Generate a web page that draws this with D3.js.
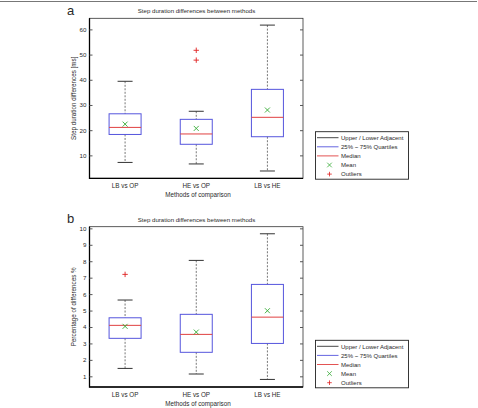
<!DOCTYPE html>
<html>
<head>
<meta charset="utf-8">
<script src="https://cdnjs.cloudflare.com/ajax/libs/d3/7.8.5/d3.min.js"></script>
<style>
  body { margin: 0; background: #fff; }
  svg text { font-family: "Liberation Sans", Arial, sans-serif; fill: #2a2a2a; }
</style>
</head>
<body>
<div id="chart"></div>
<script>
var categories = ["LB vs OP", "HE vs OP", "LB vs HE"];

// panel a: step duration differences [ms]
var upperA = [39.4, 27.5, 61.7];
var q3A = [26.5, 24.3, 36.2];
var medianA = [21.1, 18.5, 25.1];
var q1A = [18.3, 14.4, 17.4];
var lowerA = [7.2, 6.6, 3.8];
var meanA = [22.4, 20.7, 28.0];
var outliersA = [[], [51.7, 47.8], []];
var ticksA = [10, 20, 30, 40, 50, 60];

// panel b: percentage of differences
var upperB = [5.64, 8.05, 9.67];
var q3B = [4.56, 4.77, 6.59];
var medianB = [4.1, 3.55, 4.6];
var q1B = [3.31, 2.46, 3.0];
var lowerB = [1.48, 1.14, 0.81];
var meanB = [4.04, 3.69, 4.99];
var outliersB = [[7.2], [], []];
var ticksB = [1, 2, 3, 4, 5, 6, 7, 8, 9, 10];

var legendLabels = ["Upper / Lower Adjacent", "25% ~ 75% Quartiles", "Median", "Mean", "Outliers"];

var svgWidth = 478;
var svgHeight = 408;

var svg = d3.select("#chart")
  .append("svg")
  .attr("width", svgWidth)
  .attr("height", svgHeight);

// thin grey rule across the top of the figure
svg.append("line")
  .attr("x1", 0).attr("x2", 477)
  .attr("y1", 1.5).attr("y2", 1.5)
  .attr("stroke", "#777")
  .attr("stroke-width", 1.2);

function drawPanel(opts) {
  var left = 89.5, right = 303;
  var top = opts.top, bottom = opts.bottom;

  var x = d3.scaleBand()
    .domain(categories)
    .range([left, right]);

  var y = d3.scaleLinear()
    .domain(opts.domain)
    .range([bottom, top]);

  var g = svg.append("g");
  var boxW = 32, capW = 15;

  // axes box
  g.append("rect")
    .attr("x", left).attr("y", top)
    .attr("width", right - left).attr("height", bottom - top)
    .attr("fill", "none")
    .attr("stroke", "#333")
    .attr("stroke-width", 0.8);
  g.append("path")
    .attr("d", `M${left},${top}V${bottom}H${right}`)
    .attr("fill", "none")
    .attr("stroke", "#000")
    .attr("stroke-width", 1.3);

  // y axis on the left with inner ticks, and matching ticks on the right
  var leftAxis = d3.axisLeft(y).tickValues(opts.ticks).tickSize(-3).tickPadding(3);
  var yAxisG = g.append("g")
    .attr("transform", `translate(${left},0)`)
    .call(leftAxis);
  yAxisG.select(".domain").remove();
  yAxisG.selectAll("line").attr("stroke", "#555");
  yAxisG.selectAll("text")
    .attr("font-size", "6.2px")
    .style("font-family", "Liberation Sans, Arial, sans-serif")
    .style("fill", "#2a2a2a");

  var rightAxis = d3.axisRight(y).tickValues(opts.ticks).tickSize(-3).tickFormat("");
  var yAxisR = g.append("g")
    .attr("transform", `translate(${right},0)`)
    .call(rightAxis);
  yAxisR.select(".domain").remove();
  yAxisR.selectAll("line").attr("stroke", "#555");

  // x tick labels
  var bottomAxis = d3.axisBottom(x).tickSize(0).tickPadding(5.5);
  var xAxisG = g.append("g")
    .attr("transform", `translate(0,${bottom})`)
    .call(bottomAxis);
  xAxisG.select(".domain").remove();
  xAxisG.selectAll("text")
    .attr("font-size", "6.3px")
    .style("font-family", "Liberation Sans, Arial, sans-serif")
    .style("fill", "#2a2a2a");

  var rows = categories.map(function(c, i) {
    return {
      cat: c,
      upper: opts.upper[i], q3: opts.q3[i], median: opts.median[i],
      q1: opts.q1[i], lower: opts.lower[i], mean: opts.mean[i],
      outliers: opts.outliers[i]
    };
  });

  var cx = function(d) { return x(d.cat) + x.bandwidth() / 2; };

  var box = g.selectAll(".bx")
    .data(rows)
    .enter()
    .append("g")
    .attr("class", "bx");

  // dashed whiskers
  box.append("line")
    .attr("x1", cx).attr("x2", cx)
    .attr("y1", d => y(d.upper)).attr("y2", d => y(d.q3))
    .attr("stroke", "#555").attr("stroke-width", 0.8)
    .attr("stroke-dasharray", "2,1.5");
  box.append("line")
    .attr("x1", cx).attr("x2", cx)
    .attr("y1", d => y(d.q1)).attr("y2", d => y(d.lower))
    .attr("stroke", "#555").attr("stroke-width", 0.8)
    .attr("stroke-dasharray", "2,1.5");

  // adjacent caps
  box.append("line")
    .attr("x1", d => cx(d) - capW / 2).attr("x2", d => cx(d) + capW / 2)
    .attr("y1", d => y(d.upper)).attr("y2", d => y(d.upper))
    .attr("stroke", "#333").attr("stroke-width", 1);
  box.append("line")
    .attr("x1", d => cx(d) - capW / 2).attr("x2", d => cx(d) + capW / 2)
    .attr("y1", d => y(d.lower)).attr("y2", d => y(d.lower))
    .attr("stroke", "#333").attr("stroke-width", 1);

  // quartile box
  box.append("rect")
    .attr("x", d => cx(d) - boxW / 2)
    .attr("y", d => y(d.q3))
    .attr("width", boxW)
    .attr("height", d => y(d.q1) - y(d.q3))
    .attr("fill", "none")
    .attr("stroke", "#5555dd")
    .attr("stroke-width", 1);

  // median
  box.append("line")
    .attr("x1", d => cx(d) - boxW / 2).attr("x2", d => cx(d) + boxW / 2)
    .attr("y1", d => y(d.median)).attr("y2", d => y(d.median))
    .attr("stroke", "#e04040").attr("stroke-width", 1);

  // mean marker (x)
  box.append("path")
    .attr("transform", d => `translate(${cx(d)},${y(d.mean)})`)
    .attr("d", "M-2.5,-2.5L2.5,2.5M-2.5,2.5L2.5,-2.5")
    .attr("stroke", "#33aa33").attr("stroke-width", 0.9);

  // outliers (+)
  box.selectAll(".out")
    .data(d => d.outliers.map(v => ({ v: v, c: cx(d) })))
    .enter()
    .append("path")
    .attr("class", "out")
    .attr("transform", o => `translate(${o.c},${y(o.v)})`)
    .attr("d", "M-2.7,0H2.7M0,-2.7V2.7")
    .attr("stroke", "#e02020").attr("stroke-width", 0.9);

  // titles and labels
  g.append("text")
    .attr("x", 196.5)
    .attr("y", top - 5)
    .attr("text-anchor", "middle")
    .attr("font-size", "6.1px")
    .text("Step duration differences between methods");

  g.append("text")
    .attr("x", 67)
    .attr("y", top - 3.5)
    .attr("font-size", "13px")
    .text(opts.letter);

  g.append("text")
    .attr("x", 198)
    .attr("y", bottom + 19)
    .attr("text-anchor", "middle")
    .attr("font-size", "6.3px")
    .text("Methods of comparison");

  g.append("text")
    .attr("transform", "rotate(-90)")
    .attr("x", -(top + bottom) / 2)
    .attr("y", 75.5)
    .attr("text-anchor", "middle")
    .attr("font-size", "6.3px")
    .text(opts.ylabel);

  // legend
  var lx = 315.5, ly = opts.legendTop, lw = 93, lh = 47.5;
  var leg = g.append("g");
  leg.append("rect")
    .attr("x", lx).attr("y", ly)
    .attr("width", lw).attr("height", lh)
    .attr("fill", "#fff")
    .attr("stroke", "#222").attr("stroke-width", 0.9);

  var ly0 = ly + 6, lstep = 9.1;
  var items = leg.selectAll(".li")
    .data(legendLabels)
    .enter()
    .append("g")
    .attr("transform", (d, i) => `translate(0,${ly0 + i * lstep})`);

  var lineColors = ["#333", "#5555dd", "#e04040"];
  items.filter((d, i) => i < 3)
    .append("line")
    .attr("x1", lx + 1.5).attr("x2", lx + 23)
    .attr("y1", 0).attr("y2", 0)
    .attr("stroke", (d, i) => lineColors[i])
    .attr("stroke-width", 0.9);
  items.filter((d, i) => i === 3)
    .append("path")
    .attr("transform", `translate(${lx + 14},0)`)
    .attr("d", "M-2.3,-2.3L2.3,2.3M-2.3,2.3L2.3,-2.3")
    .attr("stroke", "#33aa33").attr("stroke-width", 0.8);
  items.filter((d, i) => i === 4)
    .append("path")
    .attr("transform", `translate(${lx + 14},0)`)
    .attr("d", "M-2.3,0H2.3M0,-2.3V2.3")
    .attr("stroke", "#e02020").attr("stroke-width", 0.8);
  items.append("text")
    .attr("x", lx + 25.5)
    .attr("y", 2.2)
    .attr("font-size", "6px")
    .text(d => d);
}

drawPanel({
  letter: "a",
  top: 18.3, bottom: 178.3,
  domain: [0.9, 64.4],
  ticks: ticksA,
  upper: upperA, q3: q3A, median: medianA, q1: q1A, lower: lowerA,
  mean: meanA, outliers: outliersA,
  ylabel: "Step duration differences [ms]",
  legendTop: 131.7
});

drawPanel({
  letter: "b",
  top: 226.7, bottom: 387,
  domain: [0.35, 10.1],
  ticks: ticksB,
  upper: upperB, q3: q3B, median: medianB, q1: q1B, lower: lowerB,
  mean: meanB, outliers: outliersB,
  ylabel: "Percentage of differences %",
  legendTop: 340.3
});
</script>
</body>
</html>
